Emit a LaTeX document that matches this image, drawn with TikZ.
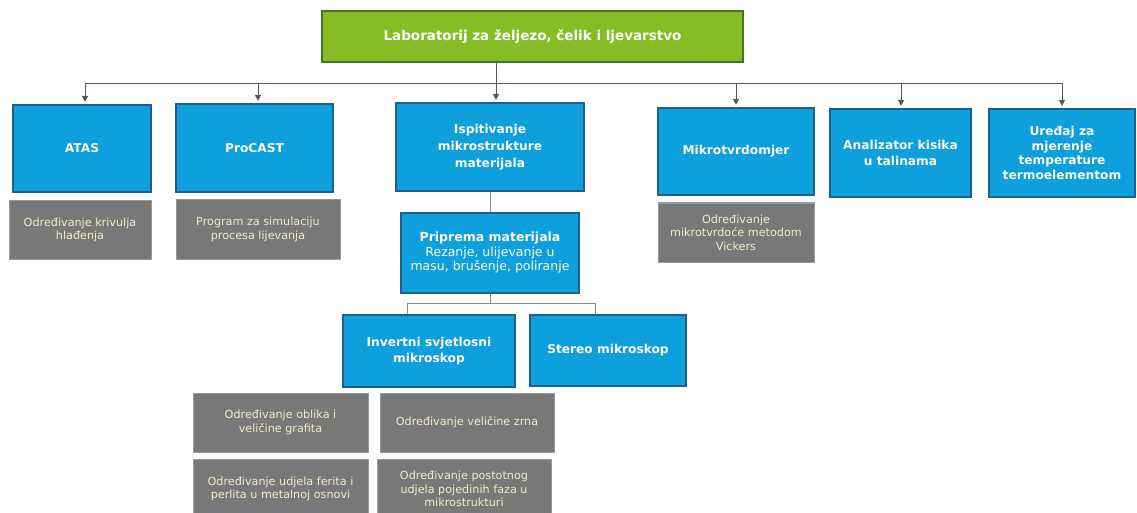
\documentclass[tikz,border=0pt]{standalone}
\usepackage{fontspec}
\setmainfont{DejaVu Sans}
\usetikzlibrary{arrows.meta}
\definecolor{labgreen}{HTML}{86BC25}
\definecolor{labgreenline}{HTML}{3F7A22}
\definecolor{unitblue}{HTML}{0EA0DC}
\definecolor{unitblueline}{HTML}{1E5F8E}
\definecolor{notegray}{HTML}{787878}
\definecolor{notegrayline}{HTML}{9A9A9A}
\definecolor{notetext}{HTML}{F2ECCB}
\definecolor{unittext}{HTML}{FBF8EA}
\definecolor{wire}{HTML}{4E5A68}
\definecolor{lightwire}{HTML}{8C8C8C}
\tikzset{
  headbox/.style={draw=labgreenline, line width=1.3pt, fill=labgreen, text=white,
    font=\fontsize{13.5}{16}\selectfont\bfseries, align=center, inner sep=0pt},
  unitbox/.style={draw=unitblueline, line width=1.2pt, fill=unitblue, text=unittext,
    font=\fontsize{12.2}{15.5}\selectfont\bfseries, align=center, inner sep=0pt},
  notebox/.style={draw=notegrayline, line width=1pt, fill=notegray, text=notetext,
    font=\fontsize{11.2}{13.5}\selectfont, align=center, inner sep=0pt},
  wirearrow/.style={draw=wire, line width=0.9pt, -{Triangle[length=6pt,width=6pt]}, shorten >=2.5pt},
  wireplain/.style={draw=wire, line width=0.9pt},
  lightline/.style={draw=lightwire, line width=1pt},
}
\begin{document}
\begin{tikzpicture}[x=1pt,y=-1pt]
\clip (0,0) rectangle (1137,513);
\fill[white] (0,0) rectangle (1137,513);

% head of the laboratory
\node[headbox, minimum width=421pt, minimum height=51pt] (lab) at (532.5,36.5) {Laboratorij za željezo, čelik i ljevarstvo};

% first level units
\node[unitbox, minimum width=138pt, minimum height=87pt] (atas) at (82,148.5) {ATAS};
\node[unitbox, minimum width=157pt, minimum height=88pt] (procast) at (254.5,148) {ProCAST};
\node[unitbox, minimum width=188pt, minimum height=88pt, font=\fontsize{12.2}{17}\selectfont\bfseries] (isp) at (490,147) {Ispitivanje\\mikrostrukture\\materijala};
\node[unitbox, minimum width=156pt, minimum height=87pt] (mikro) at (736,151.5) {Mikrotvrdomjer};
\node[unitbox, minimum width=141pt, minimum height=88pt] (anal) at (900.5,153) {Analizator kisika\\u talinama};
\node[unitbox, minimum width=146pt, minimum height=88pt, font=\fontsize{12.2}{14.7}\selectfont\bfseries] (ured) at (1062,153) {Uređaj za\\mjerenje\\temperature\\termoelementom};

% descriptions under the units
\node[notebox, minimum width=142pt, minimum height=58pt] (atasnote) at (80,230) {Određivanje krivulja\\hlađenja};
\node[notebox, minimum width=164pt, minimum height=59pt] (procastnote) at (258,229.5) {Program za simulaciju\\procesa lijevanja};
\node[notebox, minimum width=156pt, minimum height=59pt] (mikronote) at (736,232.5) {Određivanje\\mikrotvrdoće metodom\\Vickers};

% sample preparation
\node[unitbox, minimum width=178pt, minimum height=80pt, font=\fontsize{12.5}{14.5}\selectfont] (prip) at (490,253) {\textbf{Priprema materijala}\\Rezanje, ulijevanje u\\masu, brušenje, poliranje};

% microscopes
\node[unitbox, minimum width=172pt, minimum height=72pt, font=\fontsize{12.2}{16.5}\selectfont\bfseries] (inv) at (429,351) {Invertni svjetlosni\\mikroskop};
\node[unitbox, minimum width=156pt, minimum height=71pt] (stereo) at (608,350.5) {Stereo mikroskop};

% microscope tasks
\node[notebox, minimum width=175pt, minimum height=59pt] (oblik) at (280.5,422.5) {Određivanje oblika i\\veličine grafita};
\node[notebox, minimum width=174pt, minimum height=59pt] (zrno) at (467,422.5) {Određivanje veličine zrna};
\node[notebox, minimum width=175pt, minimum height=60pt] (ferit) at (280.5,489) {Određivanje udjela ferita i\\perlita u metalnoj osnovi};
\node[notebox, minimum width=174pt, minimum height=60pt] (faze) at (464,489) {Određivanje postotnog\\udjela pojedinih faza u\\mikrostrukturi};

% distribution bus from the head
\coordinate (bus) at (0,83);
\draw[wireplain] ([xshift=-36.5pt]lab.south) -- ([xshift=-36.5pt]lab.south |- bus);
\draw[wireplain] ([xshift=3pt]atas.north |- bus) -- ([xshift=0pt]ured.north |- bus);
\draw[wirearrow] ([xshift=3pt]atas.north |- bus) -- ([xshift=3pt]atas.north);
\draw[wirearrow] ([xshift=3.5pt]procast.north |- bus) -- ([xshift=3.5pt]procast.north);
\draw[wirearrow] ([xshift=6pt]isp.north |- bus) -- ([xshift=6pt]isp.north);
\draw[wirearrow] (mikro.north |- bus) -- (mikro.north);
\draw[wirearrow] ([xshift=0.5pt]anal.north |- bus) -- ([xshift=0.5pt]anal.north);
\draw[wirearrow] (ured.north |- bus) -- (ured.north);

% links inside the microstructure branch
\draw[lightline] (isp.south) -- (prip.north);
\coordinate (split) at (0,303);
\draw[lightline] (prip.south) -- (prip.south |- split);
\draw[lightline] ([xshift=-22pt]inv.north) -- ([xshift=-22pt]inv.north |- split)
  -- ([xshift=-13pt]stereo.north |- split) -- ([xshift=-13pt]stereo.north);
\end{tikzpicture}
\end{document}
